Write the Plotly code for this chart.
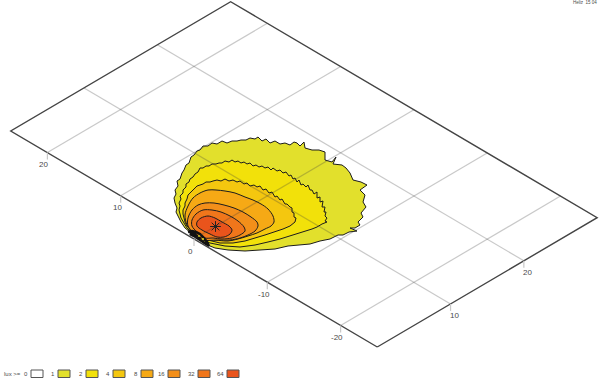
import plotly.graph_objects as go

# Ground plane extent and tick values (metres)
x_extent = [0, 30]
y_extent = [-25, 25]
x_grid = [10, 20]
y_grid = [-20, -10, 0, 10, 20]
x_tick_labels = [10, 20]
y_tick_labels = [-20, -10, 0, 10, 20]

# Isolux levels
lux_levels = [0, 1, 2, 4, 8, 16, 32, 64]
lux_colors = ["#ffffff", "#e2e02c", "#f2e10a", "#f4c70f", "#f6a915", "#f38f1a", "#f0761b", "#e9541c"]

# Isolux outlines
lux1_x = [196,190,185,181,178,176,177,175,174,176,175,178,177,180,182,184,186,189,191,194,197,200,203,208,212,217,222,227,232,237,241,246,250,255,258,262,266,270,275,280,285,290,294,297,300,304,305,312,319,325,325,332,336,333,342,346,350,353,361,367,360,365,363,366,361,363,358,360,355,350,357,349,343,338,330,320,310,300,288,275,262,245,228,215,205]
lux1_y = [237,232,228,222,216,212,208,203,198,194,190,186,181,179,173,170,165,163,157,155,151,150,146,146,143,144,141,143,141,141,140,140,138,139,137,141,139,143,141,144,143,145,142,143,146,142,148,150,150,152,160,162,157,164,165,168,173,180,182,185,190,195,202,207,213,217,222,225,228,228,231,232,235,235,239,241,244,245,246,249,250,251,250,248,244]
lux2_x = [198,193,190,187,185,183,181,180,179,180,179,181,180,183,183,186,186,189,190,193,195,198,200,203,206,209,212,216,219,222,225,229,232,235,238,241,244,247,250,253,256,259,262,265,268,271,273,277,280,283,286,289,291,293,295,297,299,301,303,306,308,310,312,314,317,317,320,320,323,322,325,324,326,325,327,325,327,322,317,312,306,298,290,280,268,255,240,225,210]
lux2_y = [238,234,231,228,225,222,218,214,210,206,203,199,196,193,190,187,184,182,179,177,174,172,168,168,166,166,164,164,163,163,161,162,160,162,161,163,162,164,163,166,165,167,166,168,167,170,168,171,170,173,172,176,175,179,178,182,180,185,184,187,185,190,190,194,192,198,197,202,201,207,207,212,212,216,218,221,222,224,227,229,231,233,236,239,242,245,247,246,243]
lux4_x = [200,193,187,185,184,183,183,185,185,187,188,191,192,195,197,200,203,206,210,213,217,221,225,229,233,237,240,244,247,250,254,257,260,263,266,269,272,275,277,280,282,285,287,290,292,292,294,294,296,295,290,283,275,265,255,245,233,220,208]
lux4_y = [239,232,226,222,219,214,210,206,203,199,195,192,190,188,186,185,184,182,182,181,180,181,179,181,180,182,181,184,183,186,185,187,186,190,189,193,192,197,196,200,199,204,204,207,208,212,213,217,218,222,226,229,232,235,238,241,243,243,240]
lux8_x = [200,192,187,185,188,193,200,208,216,225,235,245,253,261,268,273,274,271,265,257,248,238,228,215]
lux8_y = [239,232,225,215,206,198,193,190,190,191,193,197,200,204,209,216,222,226,229,233,236,239,241,240]
lux16_x = [203,194,188,188,192,198,205,214,224,234,243,251,257,258,255,248,240,230,217]
lux16_y = [240,233,226,218,210,205,203,203,205,208,212,217,222,226,231,235,238,240,240]
lux32_x = [205,197,192,192,196,203,212,221,230,238,244,245,240,232,222,213]
lux32_y = [238,232,226,220,214,210,210,212,216,221,227,231,235,238,239,238]
lux64_x = [210,202,197,197,201,208,215,222,229,232,230,224,217]
lux64_y = [234,230,226,222,218,216,218,222,226,230,234,237,237]
lux_outlines = [(lux1_x, lux1_y), (lux2_x, lux2_y), (lux4_x, lux4_y), (lux8_x, lux8_y),
                (lux16_x, lux16_y), (lux32_x, lux32_y), (lux64_x, lux64_y)]
outline_shapes = ["linear", "linear", "linear", "spline", "spline", "spline", "spline"]

# Dense contours around the foot of the mast
near_field_x = [188,192,196,200,204,207,209,206,202,198,194,190,193,197,201]
near_field_y = [232,231,232,234,238,242,246,244,241,238,236,234,233,236,239]
near_speck_x = [199, 203]
near_speck_y = [236, 239]
peak_x = [215.5]
peak_y = [226.5]

legend_title = "lux >="
stamp_text = "Heliz  15 04"


def project(x, y):
    """Oblique projection of the ground plane onto the picture."""
    return 194 + 7.33 * x - 7.33 * y, 239 - 4.31 * x - 4.32 * y


GRID = "rgba(60,60,60,0.28)"
TICK = "#c8c8c8"
FRAME = "#444444"
TEXT = "#4a4a4a"
FONT = "Liberation Sans, Arial, sans-serif"

fig = go.Figure()

for (ox, oy), color, kind in zip(lux_outlines, lux_colors[1:], outline_shapes):
    fig.add_trace(go.Scatter(x=ox + ox[:1], y=oy + oy[:1], mode="lines", fill="toself",
                             fillcolor=color, line=dict(color="#1c1c1c", width=1, shape=kind, smoothing=0.9),
                             hoverinfo="skip"))

fig.add_trace(go.Scatter(x=near_field_x, y=near_field_y, mode="lines",
                         line=dict(color="#111111", width=2.6), hoverinfo="skip"))
fig.add_trace(go.Scatter(x=near_speck_x, y=near_speck_y, mode="markers",
                         marker=dict(size=2, color="#e2e02c"), hoverinfo="skip"))

# Grid
for gx in x_grid:
    p0, p1 = project(gx, y_extent[0]), project(gx, y_extent[1])
    fig.add_trace(go.Scatter(x=[p0[0], p1[0]], y=[p0[1], p1[1]], mode="lines",
                             line=dict(color=GRID, width=1.2), hoverinfo="skip"))
for gy in y_grid:
    p0, p1 = project(x_extent[0], gy), project(x_extent[1], gy)
    fig.add_trace(go.Scatter(x=[p0[0], p1[0]], y=[p0[1], p1[1]], mode="lines",
                             line=dict(color=GRID, width=1.2), hoverinfo="skip"))

# Frame
corners = [(x_extent[0], y_extent[0]), (x_extent[1], y_extent[0]), (x_extent[1], y_extent[1]),
           (x_extent[0], y_extent[1]), (x_extent[0], y_extent[0])]
fig.add_trace(go.Scatter(x=[project(*c)[0] for c in corners], y=[project(*c)[1] for c in corners],
                         mode="lines", line=dict(color=FRAME, width=1.4), hoverinfo="skip"))

# Ticks and their labels
annotations = []
for gy in y_tick_labels:
    px, py = project(x_extent[0], gy)
    fig.add_trace(go.Scatter(x=[px, px], y=[py, py + 7], mode="lines",
                             line=dict(color=TICK, width=1.2), hoverinfo="skip"))
    annotations.append(dict(x=px - 3.5, y=py + 12, text=str(gy)))
for gx in x_tick_labels:
    px, py = project(gx, y_extent[0])
    fig.add_trace(go.Scatter(x=[px, px], y=[py, py + 7], mode="lines",
                             line=dict(color=TICK, width=1.2), hoverinfo="skip"))
    annotations.append(dict(x=px + 4, y=py + 12, text=str(gx)))

fig.add_trace(go.Scatter(x=peak_x, y=peak_y, mode="markers",
                         marker=dict(symbol="asterisk-open", size=9, color="#222222",
                                     line=dict(color="#222222", width=1)),
                         hoverinfo="skip"))

# Legend swatches
swatch_left = [31, 58, 86, 113, 141, 168, 198, 227]
shapes = []
for left, level, color in zip(swatch_left, lux_levels, lux_colors):
    shapes.append(dict(type="rect", xref="x", yref="y", x0=left, x1=left + 12, y0=370, y1=377.5,
                       fillcolor=color, line=dict(color="#555555", width=1)))
    annotations.append(dict(x=left - 1.5, y=374, text=str(level), xanchor="right", size=6))
annotations.append(dict(x=2, y=374, text=legend_title, xanchor="left", size=6))
annotations.append(dict(x=599, y=2.5, text=stamp_text, xanchor="right", size=4.5))

fig.update_layout(
    width=600, height=382, margin=dict(l=0, r=0, t=0, b=0),
    paper_bgcolor="white", plot_bgcolor="white", showlegend=False,
    xaxis=dict(range=[0, 600], visible=False, fixedrange=True),
    yaxis=dict(range=[382, 0], visible=False, fixedrange=True),
    shapes=shapes,
    annotations=[dict(x=a["x"], y=a["y"], text=a["text"], xref="x", yref="y", showarrow=False,
                      xanchor=a.get("xanchor", "center"), yanchor="middle",
                      font=dict(family=FONT, size=a.get("size", 8), color=TEXT))
                 for a in annotations],
)

fig.write_html("out.html", config={"displayModeBar": False},
               post_script="document.body.style.margin='0';document.documentElement.style.overflow='hidden';")
